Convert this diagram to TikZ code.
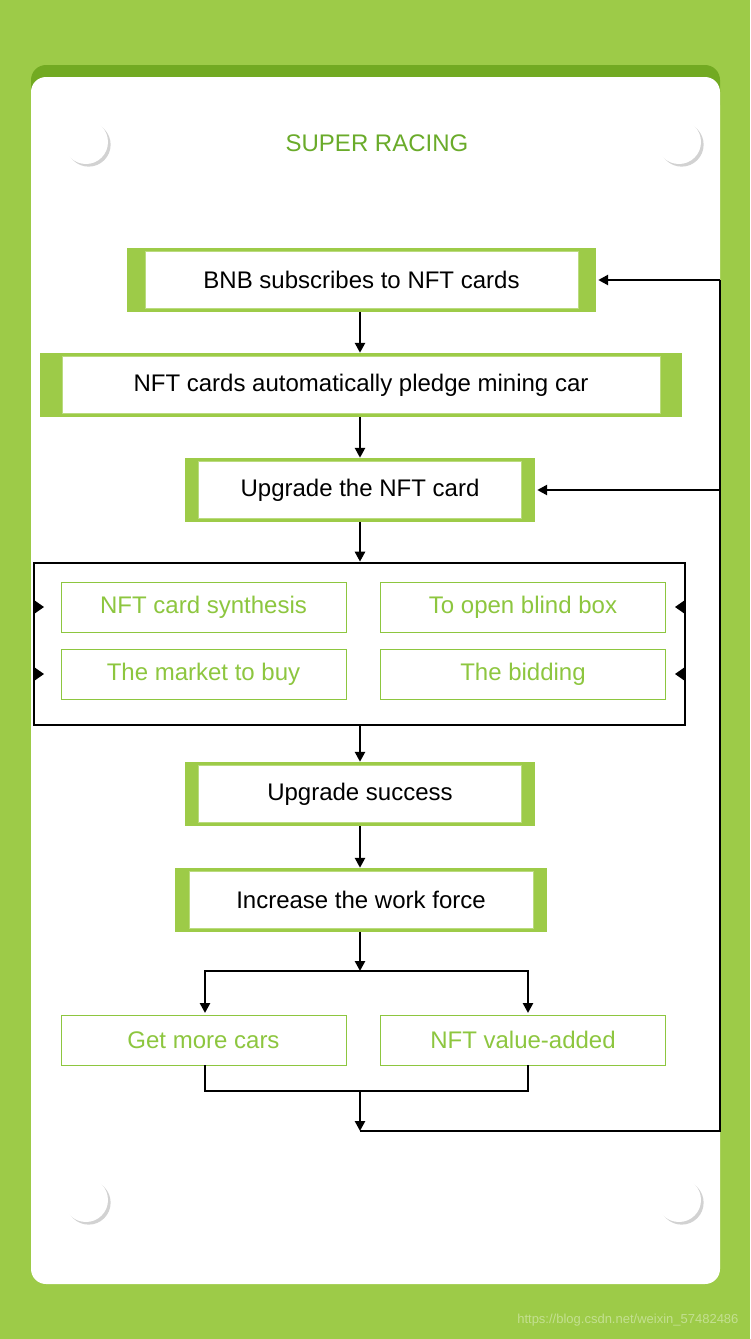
\documentclass[tikz,border=0pt]{standalone}
\usepackage{fontspec}
\setmainfont{Liberation Sans}
\usetikzlibrary{arrows.meta,shadows}
\definecolor{bggreen}{HTML}{9DCB48}
\definecolor{topgreen}{HTML}{72AA22}
\definecolor{titlegreen}{HTML}{6AAB2A}
\definecolor{lightgreen}{HTML}{8DC63F}

\tikzset{
  outer/.style = {fill=bggreen, inner sep=0pt, minimum height=64pt},
  inner/.style = {fill=white, draw=bggreen!70, line width=1pt, inner sep=0pt, minimum height=57pt,
                  font=\fontsize{24}{28}\selectfont},
  option/.style = {draw=lightgreen, line width=1pt, fill=white, text=lightgreen, inner sep=0pt,
                   minimum width=285pt, minimum height=50pt, font=\fontsize{24}{28}\selectfont},
  flow/.style = {line width=2.6pt, -{Triangle[length=10pt,width=10pt]}},
  link/.style = {line width=2.6pt},
  bolt/.style = {circle, fill=white, minimum size=44pt, drop shadow={opacity=.35}}
}

\begin{document}
\begin{tikzpicture}[x=1pt, y=-1pt]
\useasboundingbox (0,0) rectangle (750,1339);
\fill[bggreen] (0,0) rectangle (750,1339);
\fill[topgreen, rounded corners=15pt] (31,65) rectangle (720,120);
\fill[white, rounded corners=15pt] (31,77) rectangle (720,1284);
\node[text=bggreen!60!white, font=\fontsize{13}{15}\selectfont, anchor=east] at (742,1320) {https://blog.csdn.net/weixin\_57482486};

% bolts
\node[bolt] (boltA) at (86,142) {};
\node[bolt] (boltB) at (679,142) {};
\node[bolt] (boltC) at (86,1200) {};
\node[bolt] (boltD) at (679,1200) {};
\node[text=titlegreen, font=\fontsize{24}{28}\selectfont] (title) at (377,143) {SUPER RACING};

% main column
\node[outer, minimum width=469pt] (bnb) at (361.5,280) {};
\node[inner, minimum width=433pt] at (bnb) {BNB subscribes to NFT cards};
\node[outer, minimum width=642pt] (pledge) at (361,385) {};
\node[inner, minimum width=598pt] at (pledge) {NFT cards automatically pledge mining car};
\node[outer, minimum width=350pt] (upgrade) at (360,490) {};
\node[inner, minimum width=323pt] at (upgrade) {Upgrade the NFT card};

\node[draw, line width=2.6pt, minimum width=651pt, minimum height=162pt, inner sep=0pt] (grp) at (359.5,644) {};
\node[option] (synth) at (203.5,607) {NFT card synthesis};
\node[option] (blind) at (523,607) {To open blind box};
\node[option] (market) at (203.5,674) {The market to buy};
\node[option] (bid) at (523,674) {The bidding};

\node[outer, minimum width=350pt] (success) at (360,794) {};
\node[inner, minimum width=323pt] at (success) {Upgrade success};
\node[outer, minimum width=372pt] (force) at (361,900) {};
\node[inner, minimum width=344pt] at (force) {Increase the work force};

\node[option] (cars) at (203.5,1040) {Get more cars};
\node[option] (value) at (523,1040) {NFT value-added};

% connectors
\draw[flow] (bnb.south -| 360,0) -- (pledge.north -| 360,0);
\draw[flow] (pledge.south -| 360,0) -- (upgrade.north -| 360,0);
\draw[flow] (upgrade.south -| 360,0) -- (grp.north -| 360,0);
\draw[flow] (grp.south -| 360,0) -- (success.north -| 360,0);
\draw[flow] (success.south -| 360,0) -- (force.north -| 360,0);

\coordinate (split) at (360,971);
\coordinate (join) at (360,1091);
\coordinate (back) at (360,1131);
\draw[flow] (force.south -| 360,0) -- (split);
\draw[flow] (split) -| (205,1013);
\draw[flow] (split) -| (528,1013);
\draw[link] (205,1065) |- (join) -| (528,1065);
\draw[flow] (join) -- (back);
\draw[link] (back) -- (720,1131) -- (720,280);
\draw[flow] (720,280) -- ([xshift=2pt]bnb.east);
\draw[flow] (720,490) -- ([xshift=2pt]upgrade.east);

% side markers on the group
\foreach \y in {607,674} {
  \fill (34,\y-7) -- (44,\y) -- (34,\y+7) -- cycle;
  \fill (685,\y-7) -- (675,\y) -- (685,\y+7) -- cycle;
}
\end{tikzpicture}
\end{document}
